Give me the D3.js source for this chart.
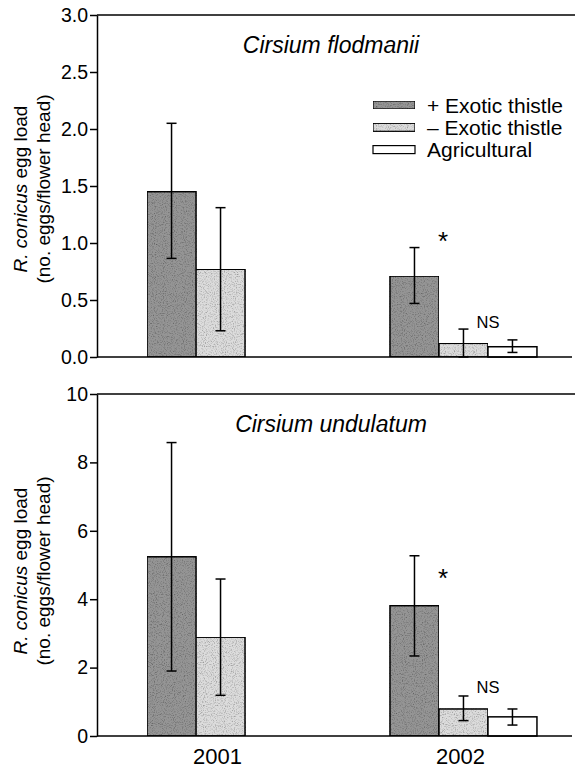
<!DOCTYPE html>
<html>
<head>
<meta charset="utf-8">
<script src="https://cdn.jsdelivr.net/npm/d3@7"></script>
<style>
  body { margin: 0; background: #fff; }
  svg { display: block; font-family: "Liberation Sans", Arial, sans-serif; }
</style>
</head>
<body>
<div id="chart"></div>
<script>
// categories
var years = ["2001", "2002"];
var series = ["+ Exotic thistle", "\u2013 Exotic thistle", "Agricultural"];
var fills = ["#959595", "#dcdcdc", "#ffffff"];

// Cirsium flodmanii, per year: mean, lower and upper end of error bar
var flodMean  = [[1.45, 0.77], [0.71, 0.12, 0.09]];
var flodLower = [[0.865, 0.23], [0.47, 0.0, 0.04]];
var flodUpper = [[2.05, 1.31], [0.96, 0.245, 0.15]];

// Cirsium undulatum
var undMean  = [[5.24, 2.89], [3.81, 0.79, 0.56]];
var undLower = [[1.9, 1.19], [2.34, 0.45, 0.32]];
var undUpper = [[8.58, 4.59], [5.27, 1.17, 0.79]];

var flodTicks = [0, 0.5, 1, 1.5, 2, 2.5, 3];
var undTicks = [0, 2, 4, 6, 8, 10];

var width = 575, height = 769;

var svg = d3.select("#chart").append("svg")
  .attr("width", width)
  .attr("height", height);

// stipple look of the printed bars
var grain = svg.append("defs").append("filter")
  .attr("id", "grain")
  .attr("x", 0).attr("y", 0).attr("width", 1).attr("height", 1);
grain.append("feTurbulence")
  .attr("type", "fractalNoise")
  .attr("baseFrequency", 0.9)
  .attr("numOctaves", 2)
  .attr("seed", 3)
  .attr("result", "noise");
grain.append("feColorMatrix")
  .attr("in", "noise")
  .attr("type", "matrix")
  .attr("values", "0 0 0 0 0  0 0 0 0 0  0 0 0 0 0  0 0 0 -1.4 0.75")
  .attr("result", "dots");
grain.append("feComposite")
  .attr("in", "dots")
  .attr("in2", "SourceGraphic")
  .attr("operator", "in")
  .attr("result", "dotsIn");
grain.append("feBlend")
  .attr("in", "SourceGraphic")
  .attr("in2", "dotsIn")
  .attr("mode", "multiply");

var x0 = d3.scaleBand()
  .domain(years)
  .range([97, 587])
  .paddingInner(0.395)
  .paddingOuter(0.206);

var x1 = d3.scaleBand()
  .domain(series)
  .range([0, x0.bandwidth()]);

function toRows(mean, lower, upper){
  var rows = [];
  years.forEach(function(yr, i){
    mean[i].forEach(function(v, j){
      rows.push({year: yr, s: j, value: v, lo: lower[i][j], hi: upper[i][j]});
    });
  });
  return rows;
}

function drawPanel(opt){
  var y = d3.scaleLinear().domain(opt.domain).range(opt.range);
  var g = svg.append("g");
  var rows = toRows(opt.mean, opt.lower, opt.upper);

  // bars
  g.selectAll("rect.bar")
    .data(rows)
    .enter()
    .append("rect")
    .attr("class", "bar")
    .attr("x", function(d){ return x0(d.year) + x1(series[d.s]); })
    .attr("y", function(d){ return y(d.value); })
    .attr("width", x1.bandwidth())
    .attr("height", function(d){ return y(0) - y(d.value); })
    .attr("fill", function(d){ return fills[d.s]; })
    .attr("filter", function(d){ return d.s < 2 ? "url(#grain)" : null; })
    .attr("stroke", "#000")
    .attr("stroke-width", 1.5);

  // error bars
  var cap = 5;
  var eb = g.selectAll("g.err")
    .data(rows)
    .enter()
    .append("g")
    .attr("class", "err")
    .attr("stroke", "#000")
    .attr("stroke-width", 1.5);
  eb.append("line")
    .attr("x1", function(d){ return x0(d.year) + x1(series[d.s]) + x1.bandwidth()/2; })
    .attr("x2", function(d){ return x0(d.year) + x1(series[d.s]) + x1.bandwidth()/2; })
    .attr("y1", function(d){ return y(d.lo); })
    .attr("y2", function(d){ return y(d.hi); });
  ["hi", "lo"].forEach(function(k){
    eb.append("line")
      .attr("x1", function(d){ return x0(d.year) + x1(series[d.s]) + x1.bandwidth()/2 - cap; })
      .attr("x2", function(d){ return x0(d.year) + x1(series[d.s]) + x1.bandwidth()/2 + cap; })
      .attr("y1", function(d){ return y(d[k]); })
      .attr("y2", function(d){ return y(d[k]); });
  });

  // y axis
  var axis = g.append("g")
    .attr("transform", "translate(97,0)")
    .call(d3.axisLeft(y).tickValues(opt.ticks).tickFormat(opt.fmt).tickSize(7).tickSizeOuter(0));
  axis.select(".domain").attr("stroke", "#000").attr("stroke-width", 1.5);
  axis.selectAll(".tick line").attr("stroke", "#000").attr("stroke-width", 1.5);
  axis.selectAll(".tick text")
    .attr("x", -9)
    .attr("fill", "#000")
    .style("font-size", "19.5px")
    .style("font-family", "'Liberation Sans', Arial, sans-serif");

  // frame: top line and base line
  g.append("line")
    .attr("x1", 97).attr("x2", 575)
    .attr("y1", y(opt.domain[1])).attr("y2", y(opt.domain[1]))
    .attr("stroke", "#000").attr("stroke-width", 1.5);
  g.append("line")
    .attr("x1", 97).attr("x2", 572)
    .attr("y1", y(0)).attr("y2", y(0))
    .attr("stroke", "#000").attr("stroke-width", 1.5);

  // title
  g.append("text")
    .attr("x", 331)
    .attr("y", opt.titleY)
    .attr("text-anchor", "middle")
    .style("font-size", "23px")
    .style("font-style", "italic")
    .text(opt.title);

  // y label
  var midY = opt.labelMid;
  var lab = g.append("text")
    .attr("transform", "translate(27," + midY + ") rotate(-90)")
    .attr("text-anchor", "middle")
    .style("font-size", "19px");
  lab.append("tspan").style("font-style", "italic").text("R. conicus");
  lab.append("tspan").text(" egg load");
  g.append("text")
    .attr("transform", "translate(50," + midY + ") rotate(-90)")
    .attr("text-anchor", "middle")
    .style("font-size", "19px")
    .text("(no. eggs/flower head)");

  // significance marks
  g.append("text")
    .attr("x", x0("2002") + x1(series[1]) + 4)
    .attr("y", y(opt.starY))
    .attr("dy", 15)
    .attr("text-anchor", "middle")
    .style("font-size", "26px")
    .style("font-weight", "300")
    .text("*");
  g.append("text")
    .attr("x", x0("2002") + x1(series[2]))
    .attr("y", y(opt.nsY))
    .attr("text-anchor", "middle")
    .style("font-size", "16.5px")
    .text("NS");

  return y;
}

drawPanel({
  domain: [0, 3], range: [357, 15],
  mean: flodMean, lower: flodLower, upper: flodUpper,
  ticks: flodTicks, fmt: d3.format(".1f"),
  title: "Cirsium flodmanii", titleY: 53, labelMid: 189,
  starY: 1.07, nsY: 0.254
});

drawPanel({
  domain: [0, 10], range: [736, 394],
  mean: undMean, lower: undLower, upper: undUpper,
  ticks: undTicks, fmt: d3.format("d"),
  title: "Cirsium undulatum", titleY: 432, labelMid: 571,
  starY: 4.8, nsY: 1.26
});

// year labels under the bottom panel
svg.selectAll("text.year")
  .data(years)
  .enter()
  .append("text")
  .attr("class", "year")
  .attr("x", function(d){ return x0(d) + x0.bandwidth()/2 - 3; })
  .attr("y", 764)
  .attr("text-anchor", "middle")
  .style("font-size", "22px")
  .text(function(d){ return d; });

// legend
var legend = svg.append("g")
  .selectAll("g")
  .data(series)
  .enter()
  .append("g")
  .attr("transform", function(d, i){ return "translate(373," + (101 + i*22.3) + ")"; });
legend.append("rect")
  .attr("width", 42)
  .attr("height", 8)
  .attr("fill", function(d, i){ return fills[i]; })
  .attr("filter", function(d, i){ return i < 2 ? "url(#grain)" : null; })
  .attr("stroke", "#000")
  .attr("stroke-width", 1.2);
legend.append("text")
  .attr("x", 54)
  .attr("y", 4)
  .attr("dy", 7.5)
  .style("font-size", "21px")
  .text(function(d){ return d; });
</script>
</body>
</html>
